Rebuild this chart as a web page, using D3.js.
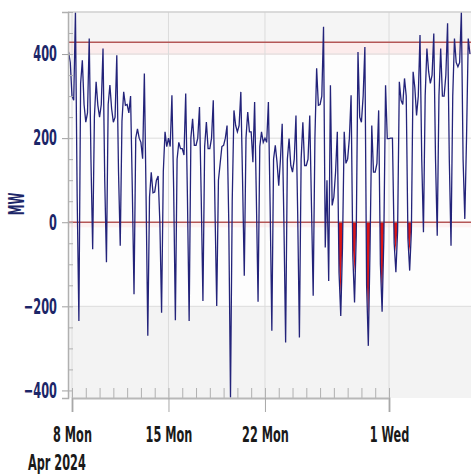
<!DOCTYPE html>
<html>
<head>
<meta charset="utf-8">
<script src="https://cdn.jsdelivr.net/npm/d3@7"></script>
<style>
  body { margin: 0; background: #fff; }
  svg text { font-family: "Liberation Sans Narrow", "Arial Narrow", "DejaVu Sans Condensed", sans-serif; font-weight: bold; }
</style>
</head>
<body>
<div id="chart"></div>
<script>
// one row per day, values at 0,3,6,...,21h (MW)
var days = ['2024-04-07','2024-04-08','2024-04-09','2024-04-10','2024-04-11','2024-04-12','2024-04-13',
  '2024-04-14','2024-04-15','2024-04-16','2024-04-17','2024-04-18','2024-04-19','2024-04-20','2024-04-21',
  '2024-04-22','2024-04-23','2024-04-24','2024-04-25','2024-04-26','2024-04-27','2024-04-28','2024-04-29',
  '2024-04-30','2024-05-01','2024-05-02','2024-05-03','2024-05-04','2024-05-05','2024-05-06']
var hours = [0, 3, 6, 9, 12, 15, 18, 21]
var mw = [
  [null, null, null, null, null, null, 405, 380],
  [300, 290, 500, 60, -235, 330, 385, 280],
  [238, 260, 437, 150, -64, 250, 334, 278],
  [250, 280, 413, 100, -95, 280, 326, 270],
  [238, 250, 397, 120, -56, 240, 310, 278],
  [280, 260, 300, 80, -171, 200, 222, 200],
  [190, 151, 354, 60, -270, 60, 119, 70],
  [72, 100, 110, 0, -215, 120, 215, 180],
  [200, 180, 302, 80, -233, 150, 190, 175],
  [175, 160, 306, 60, -235, 200, 246, 183],
  [183, 200, 274, 60, -187, 180, 238, 175],
  [175, 200, 290, 30, -199, 100, 140, 180],
  [183, 200, 230, 0, -417, 50, 266, 230],
  [215, 230, 310, 100, -127, 200, 262, 215],
  [215, 143, 286, 60, -189, 180, 215, 190],
  [200, 190, 286, 40, -258, 150, 183, 143],
  [87, 150, 234, 0, -286, 150, 199, 135],
  [119, 150, 254, 20, -274, 150, 238, 135],
  [135, 150, 254, 40, -175, 200, 366, 278],
  [280, 300, 465, -60, 100, -140, 326, 40],
  [60, 120, 215, -120, -223, -60, 215, 140],
  [150, 200, 302, -80, -191, -30, 405, 250],
  [238, 300, 417, -150, -294, -60, 230, 119],
  [119, 140, 266, -100, -213, -40, 326, 199],
  [199, 200, 200, -50, -119, -20, 334, 290],
  [280, 342, 300, -40, -115, -20, 358, 320],
  [254, 300, 445, 150, -24, 300, 413, 358],
  [330, 350, 449, 150, -32, 300, 413, 300],
  [300, 350, 473, 150, -56, 300, 437, 380],
  [370, 380, 500, 150, 8, 200, 437, 400]
]
// red shaded part (MW below zero)
var redDays = ['2024-04-26','2024-04-27','2024-04-28','2024-04-29','2024-04-30','2024-05-01','2024-05-02']
var redMw = [
  [0, 0, 0, -45, 0, 0, 0, 0],
  [0, 0, 0, -100, -175, -40, 0, 0],
  [0, 0, 0, -60, -120, -20, 0, 0],
  [0, 0, 0, -130, -230, -40, 0, 0],
  [0, 0, 0, -90, -180, -30, 0, 0],
  [0, 0, 0, -40, -70, -10, 0, 0],
  [0, 0, 0, -35, -70, -10, 0, 0]
]
var yTicks = [-400, -200, 0, 200, 400]
var yGrid = [-200, 200, 400]
var limitMw = 428
var xTickDates = ['2024-04-08','2024-04-15','2024-04-22','2024-05-01']
var xTickLabels = ['8 Mon','15 Mon','22 Mon','1 Wed']

var W = 471, H = 476
var pLeft = 68, pTop = 12, pBottom = 398, pRight = 471
var squash = 'scale(0.74,1.25)'
var parse = d3.timeParse('%Y-%m-%d')

var x = d3.scaleTime()
  .domain([parse('2024-04-08'), parse('2024-05-01')])
  .range([72, 389])
var y = d3.scaleLinear().domain([-418, 500]).range([pBottom, pTop])

function toPoints(dayList, rows) {
  var pts = []
  dayList.forEach(function(d, i) {
    var base = parse(d)
    hours.forEach(function(h, j) {
      if (rows[i][j] !== null) pts.push({ t: d3.timeHour.offset(base, h), v: rows[i][j] })
    })
  })
  return pts
}
var series = toPoints(days, mw)
var redSeries = toPoints(redDays, redMw)

var svg = d3.select('#chart').append('svg')
  .attr('width', W).attr('height', H)

svg.append('clipPath').attr('id', 'plotClip')
  .append('rect').attr('x', pLeft).attr('y', pTop).attr('width', pRight - pLeft).attr('height', pBottom - pTop)

var plot = svg.append('g').attr('clip-path', 'url(#plotClip)')

// background bands
plot.append('rect').attr('x', pLeft).attr('y', pTop).attr('width', pRight - pLeft).attr('height', pBottom - pTop).attr('fill', '#fdfdfd')
plot.append('rect').attr('x', pLeft).attr('y', pTop).attr('width', pRight - pLeft)
  .attr('height', y(limitMw) - pTop).attr('fill', '#f5f5f5')
plot.append('rect').attr('x', pLeft).attr('y', y(-200)).attr('width', pRight - pLeft)
  .attr('height', pBottom - y(-200)).attr('fill', '#f3f3f3')
plot.append('rect').attr('x', pLeft).attr('y', y(limitMw)).attr('width', pRight - pLeft)
  .attr('height', y(398) - y(limitMw)).attr('fill', '#fcecec')
plot.append('rect').attr('x', pLeft).attr('y', y(0)).attr('width', pRight - pLeft)
  .attr('height', y(-12) - y(0)).attr('fill', '#fdf1f1')

// grid
plot.selectAll('.hgrid').data(yGrid).enter().append('line')
  .attr('x1', pLeft).attr('x2', pRight)
  .attr('y1', function(d) { return y(d) }).attr('y2', function(d) { return y(d) })
  .attr('stroke', '#dcdcdc').attr('stroke-width', 1)
plot.selectAll('.vgrid').data(xTickDates).enter().append('line')
  .attr('x1', function(d) { return x(parse(d)) }).attr('x2', function(d) { return x(parse(d)) })
  .attr('y1', pTop).attr('y2', pBottom)
  .attr('stroke', '#dcdcdc').attr('stroke-width', 1)

// red fill, only inside the dips of the line
svg.append('clipPath').attr('id', 'dipClip')
  .append('path')
  .attr('d', d3.area().x(function(d) { return x(d.t) }).y0(pTop).y1(function(d) { return y(d.v) })(series))
plot.append('g').attr('clip-path', 'url(#dipClip)')
  .append('path')
  .attr('d', d3.area().x(function(d) { return x(d.t) }).y0(y(0)).y1(function(d) { return y(d.v) })(redSeries))
  .attr('fill', '#dd1515')

// limit lines
plot.append('line').attr('x1', pLeft).attr('x2', pRight).attr('y1', y(limitMw)).attr('y2', y(limitMw))
  .attr('stroke', '#b45656').attr('stroke-width', 1.6)
plot.append('line').attr('x1', pLeft).attr('x2', pRight).attr('y1', y(0)).attr('y2', y(0))
  .attr('stroke', '#b45656').attr('stroke-width', 1.6)

// main line
plot.append('path')
  .datum(series)
  .attr('d', d3.line().x(function(d) { return x(d.t) }).y(function(d) { return y(d.v) }))
  .attr('fill', 'none')
  .attr('stroke', '#23237a')
  .attr('stroke-width', 1.3)

// top border
svg.append('line').attr('x1', pLeft).attr('x2', pRight).attr('y1', pTop).attr('y2', pTop)
  .attr('stroke', '#cfcfcf').attr('stroke-width', 1.5)

// y axis
var yAxis = svg.append('g').attr('transform', 'translate(' + pLeft + ',0)')
  .call(d3.axisLeft(y).tickValues(yTicks).tickSize(6).tickPadding(9))
yAxis.select('.domain').attr('stroke', '#b0b0b0').attr('stroke-width', 1.5)
yAxis.selectAll('.tick line').attr('stroke', '#a0a0a0')
yAxis.selectAll('.tick text')
  .attr('fill', '#1c2668').style('font-size', '17px')
  .attr('transform', squash)

var yMinor = svg.append('g').attr('transform', 'translate(' + pLeft + ',0)')
  .call(d3.axisRight(y).tickValues(d3.range(-400, 501, 50)).tickSize(5).tickFormat(''))
yMinor.select('.domain').remove()
yMinor.selectAll('.tick line').attr('stroke', '#b0b0b0')

// x axis
var xMinor = svg.append('g').attr('transform', 'translate(0,' + pBottom + ')')
  .call(d3.axisTop(x).ticks(d3.timeDay.every(1)).tickSize(10).tickFormat(''))
xMinor.select('.domain').remove()
xMinor.selectAll('.tick line').attr('stroke', '#b0b0b0')

var xAxis = svg.append('g').attr('transform', 'translate(0,' + pBottom + ')')
  .call(d3.axisBottom(x).tickValues(xTickDates.map(parse)).tickSize(14)
    .tickFormat(function(d, i) { return xTickLabels[i] }))
xAxis.select('.domain').attr('stroke', '#b8b8b8').attr('stroke-width', 2)
xAxis.selectAll('.tick line').attr('stroke', '#a8a8a8')
xAxis.selectAll('.tick text')
  .attr('fill', '#1a1a1a').style('font-size', '17px')
  .attr('y', 35.5).attr('dy', 0)
  .attr('transform', squash)

svg.append('text')
  .attr('transform', 'translate(28,470) ' + squash)
  .attr('fill', '#1a1a1a').style('font-size', '17px')
  .text('Apr 2024')

svg.append('text')
  .attr('transform', 'translate(24,204) rotate(-90) scale(0.8,1.45)')
  .attr('text-anchor', 'middle')
  .attr('fill', '#1c2668').style('font-size', '15px')
  .text('MW')
</script>
</body>
</html>
